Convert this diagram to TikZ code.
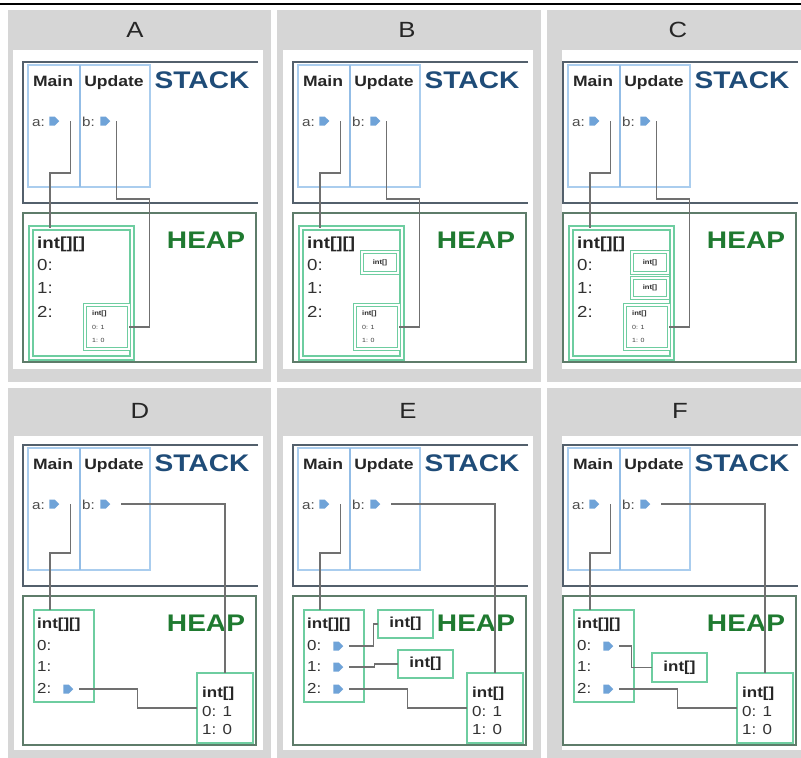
\documentclass[tikz,border=0pt]{standalone}
\usepackage{fontspec}
\setmainfont{Liberation Sans}[FakeStretch=1.17]
\usetikzlibrary{shapes.symbols}
\definecolor{tilegray}{HTML}{D6D6D6}
\definecolor{stackline}{HTML}{53606C}
\definecolor{heapline}{HTML}{5E7C6A}
\definecolor{frameblue}{HTML}{AACDEE}
\definecolor{dividerblue}{HTML}{93BDE6}
\definecolor{stackblue}{HTML}{1F4C78}
\definecolor{heapgreen}{HTML}{1F7A30}
\definecolor{boxgreen}{HTML}{6ECDA0}
\definecolor{ptrblue}{HTML}{6FA3D8}
\definecolor{wiregray}{HTML}{707070}
\tikzset{
  tile/.style={fill=tilegray,draw=none},
  innerarea/.style={fill=white,draw=none},
  stackframe/.style={draw=stackline,line width=1.5pt},
  heapframe/.style={draw=heapline,line width=1.3pt,rectangle,inner sep=0pt,outer sep=0pt,anchor=north west},
  methodframe/.style={draw=frameblue,line width=1.6pt,rectangle,inner sep=0pt,outer sep=0pt,anchor=north west,minimum height=122pt},
  divider/.style={draw=dividerblue,line width=2.6pt},
  framelbl/.style={font=\bfseries\fontsize{15}{15}\selectfont,text=black!85,inner sep=0pt,anchor=base},
  stacklbl/.style={font=\bfseries\fontsize{24}{24}\selectfont,text=stackblue,inner sep=0pt,anchor=base},
  heaplbl/.style={font=\bfseries\fontsize{24}{24}\selectfont,text=heapgreen,inner sep=0pt,anchor=base},
  varlbl/.style={font=\fontsize{13}{13}\selectfont,text=black!70,inner sep=0pt,anchor=base west},
  ptr/.style={signal,signal to=east,fill=ptrblue,draw=none,minimum width=10pt,minimum height=9pt,inner sep=0pt,outer sep=0pt},
  wire/.style={draw=wiregray,line width=1.2pt},
  dblbox/.style={draw=boxgreen,double=white,line width=1.7pt,double distance=2pt,rectangle,inner sep=0pt,outer sep=0pt,anchor=north west},
  smallbox/.style={draw=boxgreen,double=white,line width=1.3pt,double distance=1.3pt,rectangle,inner sep=0pt,outer sep=0pt,anchor=north west},
  gbox/.style={draw=boxgreen,line width=2.4pt,rectangle,inner sep=0pt,outer sep=0pt,anchor=north west},
  rowbig/.style={font=\fontsize{16}{16}\selectfont,text=black!80,inner sep=0pt,anchor=base west},
  rowbigb/.style={font=\bfseries\fontsize{16}{16}\selectfont,text=black!85,inner sep=0pt,anchor=base west},
  rowmid/.style={font=\fontsize{14.5}{14.5}\selectfont,text=black!80,inner sep=0pt,anchor=base west},
  rowmidb/.style={font=\bfseries\fontsize{14.5}{14.5}\selectfont,text=black!85,inner sep=0pt,anchor=base west},
  boxlbl/.style={font=\bfseries\fontsize{14.5}{14.5}\selectfont,text=black!85,inner sep=0pt},
  tiny/.style={font=\fontsize{6}{6}\selectfont,text=black!75,inner sep=0pt,anchor=base west},
  tinyb/.style={font=\bfseries\fontsize{6.5}{6.5}\selectfont,text=black!85,inner sep=0pt,anchor=base west},
  tinyc/.style={font=\bfseries\fontsize{6.5}{6.5}\selectfont,text=black!85,inner sep=0pt},
  letter/.style={font=\fontsize{22}{22}\selectfont,text=black!85,inner sep=0pt,anchor=base},
}
\newcommand\stackheap[1]{%
  \draw[stackframe] (235,0) -- (0,0) -- (0,141) -- (235,141);
  \node[methodframe,minimum width=52pt] (#1mainf) at (5,3) {};
  \node[methodframe,minimum width=70pt] (#1updf) at (57,3) {};
  \draw[divider] (#1mainf.north east) -- (#1mainf.south east);
  \node[framelbl] (#1maint) at (30,24.5) {Main};
  \node[framelbl] (#1updt) at (91,24.5) {Update};
  \node[stacklbl] (#1stackt) at (179,26.5) {STACK};
  \node[varlbl] (#1at) at (9,64) {a:};
  \node[ptr] (#1ap) at (29,59) {};
  \node[varlbl] (#1bt) at (59,64) {b:};
  \node[ptr] (#1bp) at (80,59) {};
  \node[heapframe,minimum width=233pt,minimum height=149pt] (#1heap) at (0,151) {};
  \node[heaplbl] (#1heapt) at (183,186.5) {HEAP};
}
\newcommand\toparr[1]{%
  \node[dblbox,minimum width=101pt,minimum height=130pt] (#1arr) at (8,166) {};
  \node[rowbigb] (#1arrt) at (14,186) {int[][]};
  \node[rowbig] (#1r0) at (14,208) {0:};
  \node[rowbig] (#1r1) at (14,231) {1:};
  \node[rowbig] (#1r2) at (14,255) {2:};
  \node[smallbox,minimum width=44pt,minimum height=44pt] (#1dat) at (62,243) {};
  \node[tinyb] (#1datt) at (69,253.5) {int[]};
  \node[tiny] (#1dat0) at (69,267) {0: 1};
  \node[tiny] (#1dat1) at (69,280) {1: 0};
  \draw[wire] ([xshift=11pt]#1ap.east) -- ++(0,52) -| ([xshift=19pt]#1arr.north west);
  \draw[wire] ([xshift=6pt]#1bp.east) -- ++(0,78) -- ++(33,0) |- (#1dat.east);
}
\newcommand\botarr[1]{%
  \node[gbox,minimum width=60pt,minimum height=92pt] (#1arr) at (11,165) {};
  \node[rowmidb] (#1arrt) at (14,183) {int[][]};
  \node[rowmid] (#1r0) at (14,205) {0:};
  \node[rowmid] (#1r1) at (14,226) {1:};
  \node[rowmid] (#1r2) at (14,248) {2:};
  \node[gbox,minimum width=56pt,minimum height=70pt] (#1dat) at (174,228) {};
  \node[rowmidb] (#1datt) at (179,252) {int[]};
  \node[rowmid] (#1dat0) at (179,271) {0: 1};
  \node[rowmid] (#1dat1) at (179,289) {1: 0};
  \node[ptr] (#1p2) at (43,244) {};
  \draw[wire] ([xshift=11pt]#1ap.east) -- ++(0,49) -| ([xshift=16pt]#1arr.north west);
  \draw[wire] ([xshift=11pt]#1bp.east) -| (#1dat.north);
  \draw[wire] ([xshift=6pt]#1p2.east) -- ++(58,0) |- (#1dat.west);
}
\begin{document}
\begin{tikzpicture}[x=1pt,y=-1pt]
\useasboundingbox (0,0) rectangle (801,758);
\fill[white] (0,0) rectangle (801,758);
\draw[line width=2.5pt] (0,4) -- (801,4);
% tiles
\fill[tile] (8,10) rectangle (271,382);
\fill[tile] (277,10) rectangle (541,382);
\fill[tile] (547,10) rectangle (801,382);
\fill[tile] (8,388) rectangle (271,758);
\fill[tile] (277,388) rectangle (541,758);
\fill[tile] (547,388) rectangle (801,758);
\fill[innerarea] (13,50) rectangle (263,369);
\fill[innerarea] (283,50) rectangle (533,369);
\fill[innerarea] (562,50) rectangle (801,369);
\fill[innerarea] (14,436) rectangle (263,750);
\fill[innerarea] (283,436) rectangle (533,750);
\fill[innerarea] (562,436) rectangle (801,750);
% letters
\node[letter] (tA) at (135,37) {A};
\node[letter] (tB) at (407,37) {B};
\node[letter] (tC) at (678,37) {C};
\node[letter] (tD) at (140,418) {D};
\node[letter] (tE) at (408,418) {E};
\node[letter] (tF) at (680,418) {F};
% A
\begin{scope}[shift={(23,62)}]
  \stackheap{A}
  \toparr{A}
\end{scope}
% B
\begin{scope}[shift={(293,62)}]
  \stackheap{B}
  \toparr{B}
  \node[smallbox,minimum width=36pt,minimum height=21pt] (Bbox0) at (69,190) {};
  \node[tinyc] (Bbox0t) at (Bbox0.center) {int[]};
\end{scope}
% C
\begin{scope}[shift={(563,62)}]
  \stackheap{C}
  \toparr{C}
  \node[smallbox,minimum width=36pt,minimum height=21pt] (Cbox0) at (69,190) {};
  \node[tinyc] (Cbox0t) at (Cbox0.center) {int[]};
  \node[smallbox,minimum width=36pt,minimum height=20pt] (Cbox1) at (69,216) {};
  \node[tinyc] (Cbox1t) at (Cbox1.center) {int[]};
\end{scope}
% D
\begin{scope}[shift={(23,445)}]
  \stackheap{D}
  \botarr{D}
\end{scope}
% E
\begin{scope}[shift={(293,445)}]
  \stackheap{E}
  \botarr{E}
  \node[ptr] (Ep0) at (43,201) {};
  \node[ptr] (Ep1) at (43,222) {};
  \node[gbox,minimum width=55pt,minimum height=28pt] (Ebox0) at (85,165) {};
  \node[boxlbl] (Ebox0t) at (Ebox0.center) {int[]};
  \node[gbox,minimum width=55pt,minimum height=28pt] (Ebox1) at (105,205) {};
  \node[boxlbl] (Ebox1t) at (Ebox1.center) {int[]};
  \draw[wire] ([xshift=6pt]Ep0.east) -- ++(24,0) |- (Ebox0.west);
  \draw[wire] ([xshift=6pt]Ep1.east) -- ++(25,0) |- (Ebox1.west);
\end{scope}
% F
\begin{scope}[shift={(563,445)}]
  \stackheap{F}
  \botarr{F}
  \node[ptr] (Fp0) at (43,201) {};
  \node[gbox,minimum width=55pt,minimum height=29pt] (Fbox0) at (89,208) {};
  \node[boxlbl] (Fbox0t) at (Fbox0.center) {int[]};
  \draw[wire] ([xshift=6pt]Fp0.east) -- ++(12,0) |- (Fbox0.west);
\end{scope}
\end{tikzpicture}
\end{document}
